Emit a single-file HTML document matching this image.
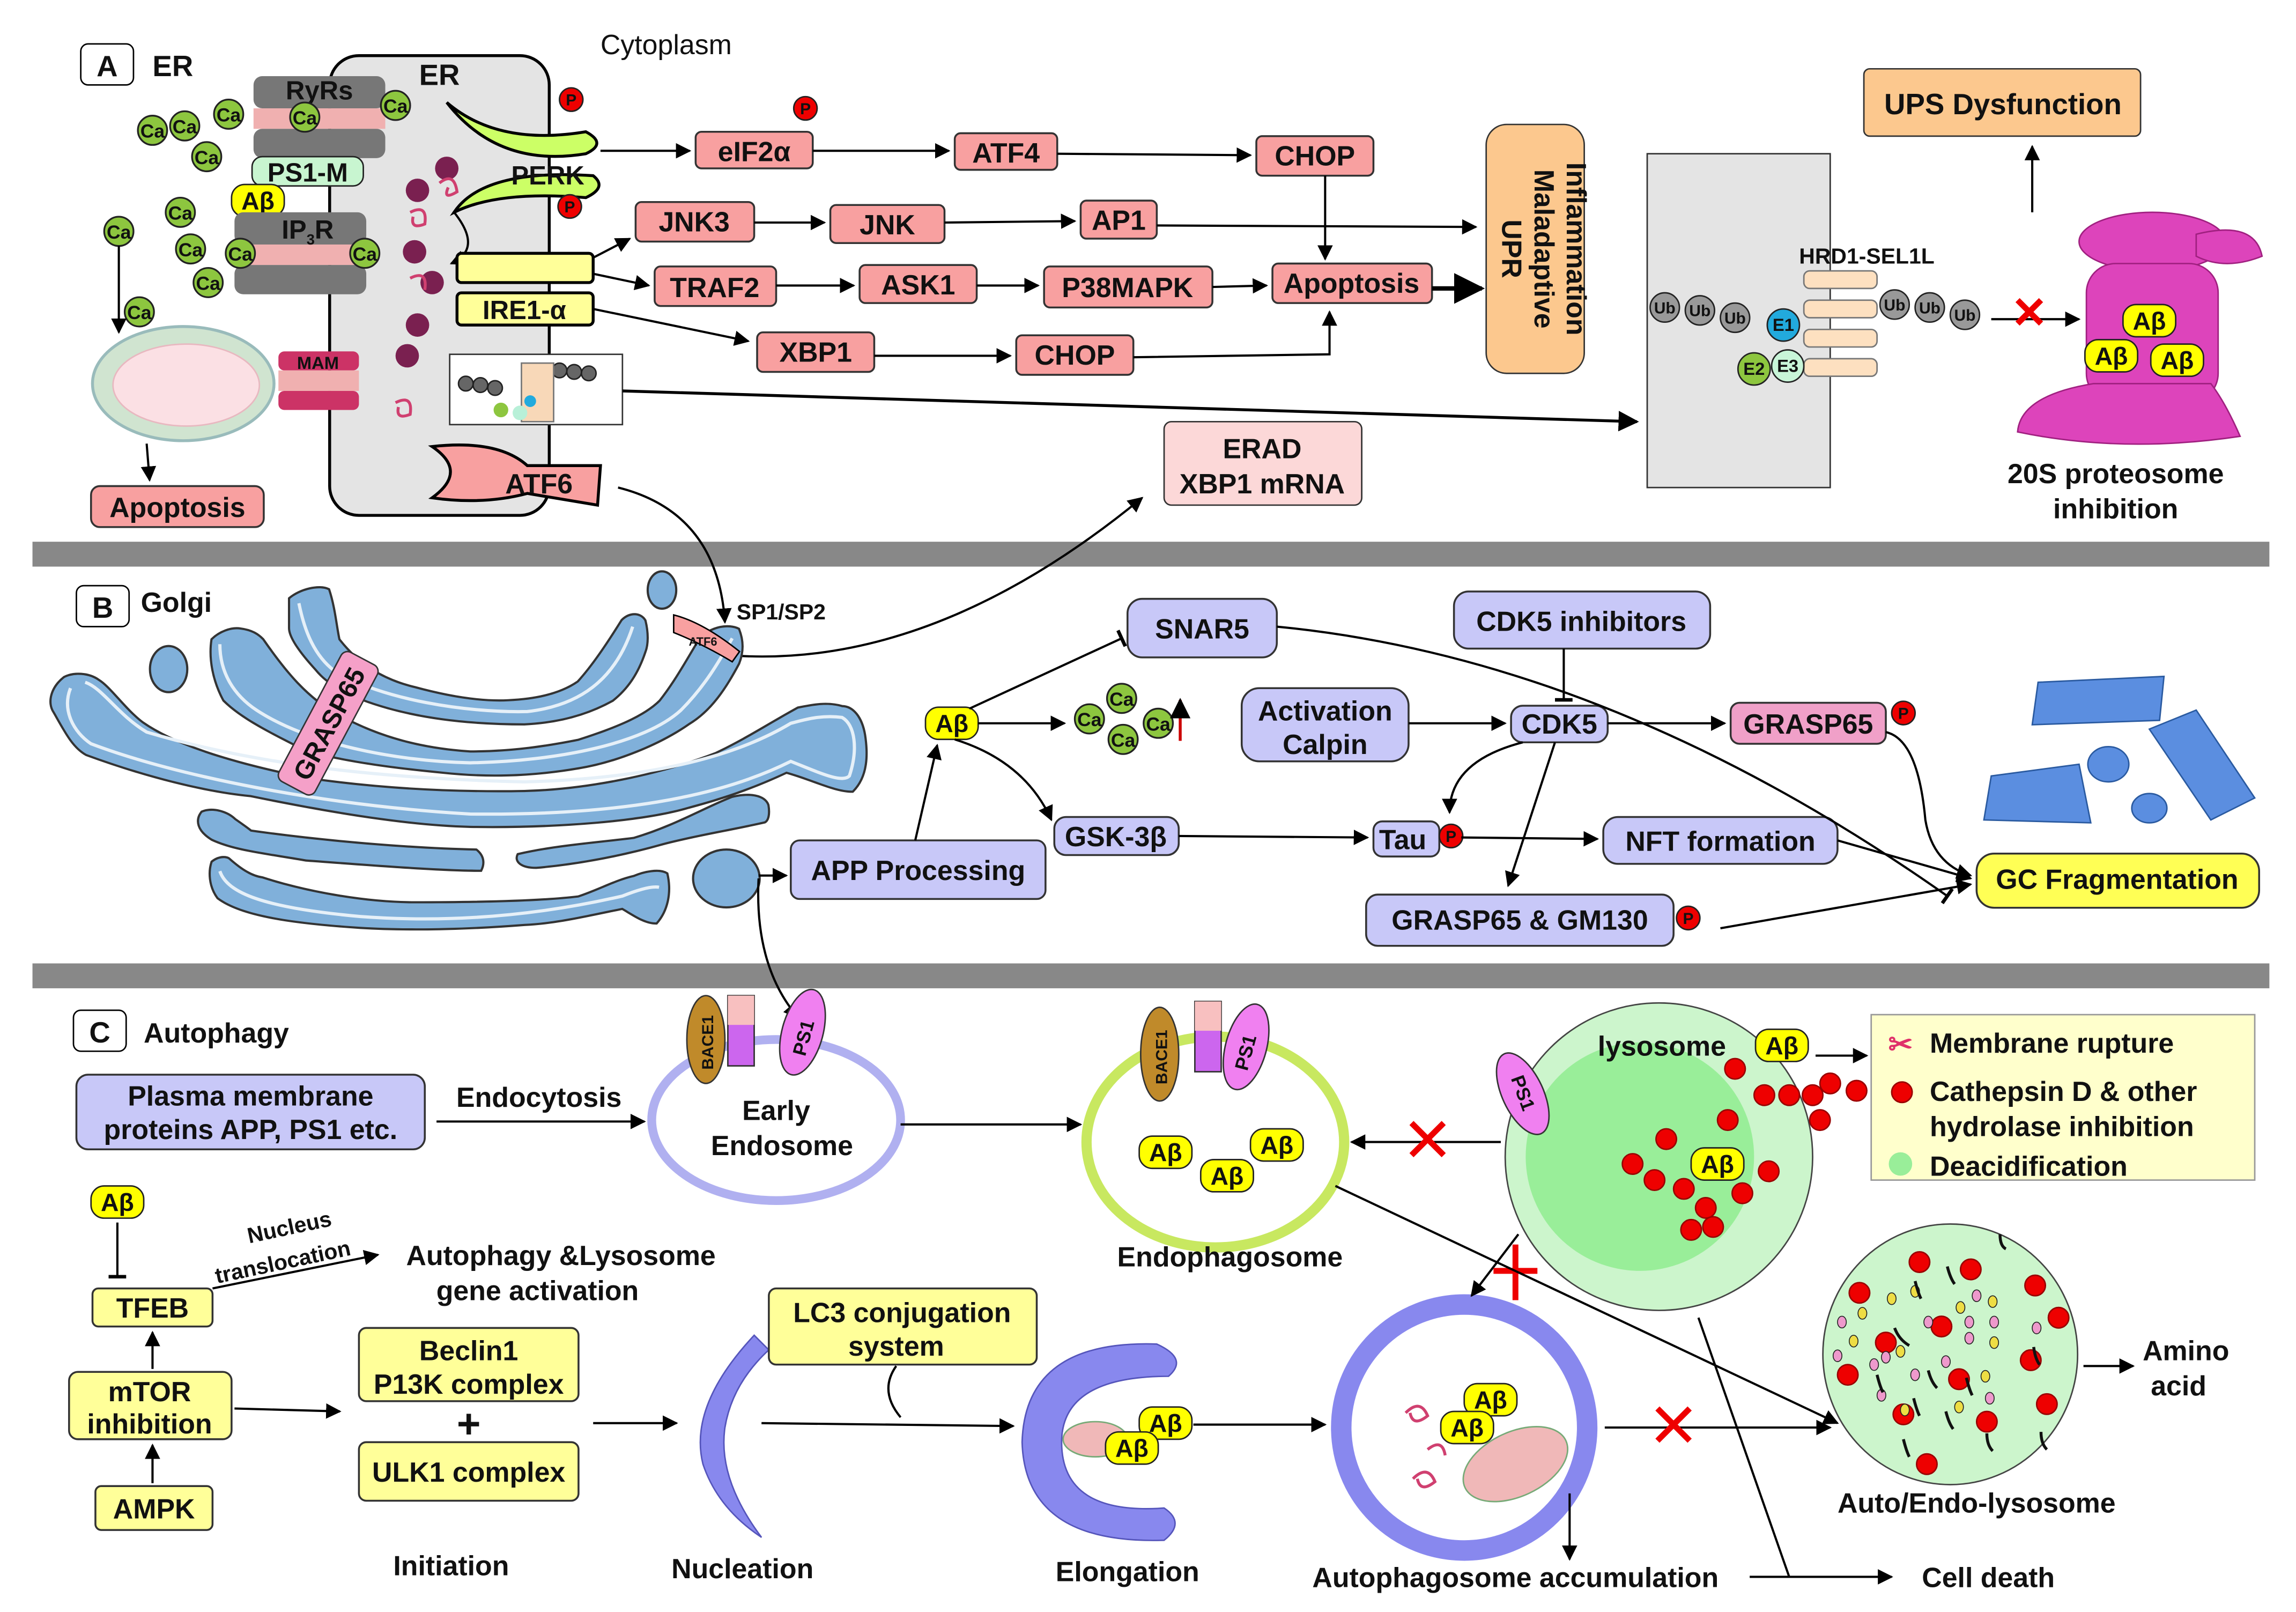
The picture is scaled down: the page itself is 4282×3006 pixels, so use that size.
<!DOCTYPE html>
<html><head><meta charset="utf-8"><style>
html,body{margin:0;padding:0;background:#fff}
svg{display:block}
text{font-family:"Liberation Sans",sans-serif;font-weight:bold;fill:#111}
</style></head><body>
<svg width="4282" height="3006" viewBox="0 0 1568 1101" xmlns="http://www.w3.org/2000/svg">
<defs>
<marker id="a" viewBox="0 0 10 10" refX="9" refY="5" markerWidth="7" markerHeight="7" orient="auto"><path d="M0,0L10,5L0,10z" fill="#000"/></marker>
<marker id="t" viewBox="0 0 10 10" refX="5" refY="5" markerWidth="8" markerHeight="8" orient="auto"><path d="M5,0V10" stroke="#000" stroke-width="2"/></marker>
<g id="ca"><circle r="10" fill="#8dc63f" stroke="#222" stroke-width="1.2"/><text y="5" text-anchor="middle" font-size="13">Ca</text></g>
<g id="p"><circle r="8" fill="#e00" stroke="#222"/><text y="4" text-anchor="middle" font-size="11">P</text></g>
<g id="ab"><rect x="-18" y="-11" width="36" height="22" rx="9" fill="#ffff00" stroke="#222"/><text y="6" text-anchor="middle" font-size="17">Aβ</text></g>
<g id="dot"><circle r="7" fill="#e00" stroke="#900"/></g>
</defs>
<style>.b{stroke:#333;stroke-width:1.3}.l{stroke:#000;stroke-width:1.5;fill:none}.r{fill:#f8a0a0}.v{fill:#c8c8f8}.y{fill:#ffff99}
.g1{fill:#80b0da;stroke:#333;stroke-width:3;paint-order:stroke}.g2{fill:none;stroke:#e6f0f8;stroke-width:2.2}</style>

<rect x="22" y="370" width="1528" height="17" fill="#888"/>
<rect x="22" y="658" width="1528" height="17" fill="#888"/>

<!-- ===== A ===== -->
<rect x="55" y="30" width="36" height="28" rx="5" fill="#fff" stroke="#000"/>
<text x="73" y="52" text-anchor="middle" font-size="20">A</text>
<text x="104" y="52" font-size="20">ER</text>
<text x="410" y="37" font-size="19" style="font-weight:normal">Cytoplasm</text>

<rect x="225" y="38" width="150" height="314" rx="20" fill="#e4e4e4" stroke="#000" stroke-width="2"/>
<text x="300" y="58" text-anchor="middle" font-size="20">ER</text>
<rect x="173" y="52" width="90" height="22" rx="6" fill="#777"/>
<rect x="173" y="74" width="90" height="14" fill="#f0b0b0"/>
<rect x="173" y="88" width="90" height="20" rx="6" fill="#777"/>
<text x="218" y="68" text-anchor="middle" font-size="18">RyRs</text>
<rect x="172" y="107" width="76" height="20" rx="7" fill="#c8f5d0" stroke="#222"/>
<text x="210" y="124" text-anchor="middle" font-size="18">PS1-M</text>
<use href="#ab" x="176" y="137"/>
<rect x="160" y="145" width="90" height="22" rx="6" fill="#777"/>
<rect x="160" y="167" width="90" height="14" fill="#f0b0b0"/>
<rect x="160" y="181" width="90" height="20" rx="6" fill="#777"/>
<text x="210" y="163" text-anchor="middle" font-size="18">IP<tspan font-size="10" dy="4">3</tspan><tspan dy="-4">R</tspan></text>
<use href="#ca" x="104" y="89"/><use href="#ca" x="126" y="86"/><use href="#ca" x="156" y="78"/><use href="#ca" x="141" y="107"/><use href="#ca" x="208" y="80"/><use href="#ca" x="270" y="72"/>
<use href="#ca" x="123" y="145"/><use href="#ca" x="130" y="170"/><use href="#ca" x="142" y="193"/><use href="#ca" x="164" y="173"/><use href="#ca" x="249" y="173"/><use href="#ca" x="81" y="158"/><use href="#ca" x="95" y="213"/>
<line x1="81" y1="168" x2="81" y2="227" class="l" marker-end="url(#a)"/>
<ellipse cx="125" cy="262" rx="62" ry="39" fill="#d0e4d0" stroke="#9bb" stroke-width="2"/>
<ellipse cx="127" cy="263" rx="50" ry="28" fill="#fbe0e4" stroke="#e8b8c0"/>
<rect x="190" y="240" width="55" height="13" rx="4" fill="#cc3366"/><rect x="190" y="253" width="55" height="14" fill="#f0b0b0"/><rect x="190" y="267" width="55" height="13" rx="4" fill="#cc3366"/>
<text x="217" y="252" text-anchor="middle" font-size="12">MAM</text>
<line x1="100" y1="303" x2="102" y2="328" class="l" marker-end="url(#a)"/>
<rect x="62" y="332" width="118" height="28" rx="6" class="r b"/>
<text x="121" y="353" text-anchor="middle" font-size="19">Apoptosis</text>
<path d="M305,70 Q340,100 400,90 Q415,98 400,105 Q340,115 305,70z" fill="#ccff66" stroke="#000" stroke-width="2"/>
<path d="M310,145 Q330,115 405,120 Q415,128 400,135 Q340,130 310,145z" fill="#ccff66" stroke="#000" stroke-width="2"/>
<text x="374" y="126" text-anchor="middle" font-size="18">PERK</text>
<use href="#p" x="390" y="68"/><use href="#p" x="389" y="141"/>
<circle cx="305" cy="115" r="8" fill="#7a2050"/><circle cx="285" cy="130" r="8" fill="#7a2050"/><circle cx="283" cy="172" r="8" fill="#7a2050"/><circle cx="295" cy="193" r="8" fill="#7a2050"/><circle cx="285" cy="222" r="8" fill="#7a2050"/><circle cx="278" cy="243" r="8" fill="#7a2050"/>
<path d="M300,125 q10,-8 12,6 q-10,6 -6,-3 M280,145 q12,-6 10,8 q-10,4 -8,-5 M280,190 q12,-6 10,8 M270,275 q12,-6 10,8 q-10,4 -8,-5" stroke="#d04070" fill="none" stroke-width="2"/>
<path d="M310,145 Q330,170 308,180" class="l" marker-end="url(#a)"/>
<rect x="312" y="173" width="93" height="20" rx="3" fill="#ffff99" stroke="#000" stroke-width="2"/>
<rect x="312" y="200" width="93" height="22" rx="3" fill="#ffff99" stroke="#000" stroke-width="2"/>
<text x="358" y="218" text-anchor="middle" font-size="18">IRE1-α</text>
<rect x="307" y="242" width="118" height="48" fill="#fff" stroke="#333"/>
<g fill="#666" stroke="#222"><circle cx="318" cy="262" r="5"/><circle cx="328" cy="263" r="5"/><circle cx="338" cy="265" r="5"/><circle cx="382" cy="253" r="5"/><circle cx="392" cy="254" r="5"/><circle cx="402" cy="255" r="5"/></g>
<rect x="356" y="248" width="22" height="40" fill="#f8d8b8" stroke="#777"/>
<circle cx="342" cy="280" r="5" fill="#8dc63f"/><circle cx="355" cy="282" r="5" fill="#b8f0d8"/><circle cx="362" cy="274" r="4" fill="#22aadd"/>
<path d="M295,305 Q340,300 360,318 L410,318 L408,345 L360,337 Q330,345 295,340 Q320,322 295,305z" fill="#f8a0a0" stroke="#000" stroke-width="2"/>
<text x="368" y="337" text-anchor="middle" font-size="19">ATF6</text>
<g font-size="19" text-anchor="middle">
<rect x="475" y="90" width="80" height="25" rx="4" class="r b"/><text x="515" y="110">eIF2α</text>
<use href="#p" x="550" y="74"/>
<rect x="652" y="91" width="70" height="25" rx="4" class="r b"/><text x="687" y="111">ATF4</text>
<rect x="858" y="93" width="80" height="27" rx="4" class="r b"/><text x="898" y="113">CHOP</text>
<rect x="434" y="138" width="81" height="27" rx="4" class="r b"/><text x="474" y="158">JNK3</text>
<rect x="567" y="140" width="78" height="26" rx="4" class="r b"/><text x="606" y="160">JNK</text>
<rect x="738" y="137" width="52" height="26" rx="4" class="r b"/><text x="764" y="157">AP1</text>
<rect x="447" y="182" width="83" height="27" rx="4" class="r b"/><text x="488" y="203">TRAF2</text>
<rect x="587" y="181" width="80" height="26" rx="4" class="r b"/><text x="627" y="201">ASK1</text>
<rect x="713" y="182" width="115" height="28" rx="4" class="r b"/><text x="770" y="203">P38MAPK</text>
<rect x="869" y="180" width="109" height="27" rx="4" class="r b"/><text x="923" y="200">Apoptosis</text>
<rect x="517" y="227" width="80" height="27" rx="4" class="r b"/><text x="557" y="247">XBP1</text>
<rect x="694" y="229" width="80" height="27" rx="4" class="r b"/><text x="734" y="249">CHOP</text>
</g>
<g class="l">
<line x1="410" y1="103" x2="471" y2="103" marker-end="url(#a)"/>
<line x1="555" y1="103" x2="648" y2="103" marker-end="url(#a)"/>
<line x1="722" y1="105" x2="854" y2="106" marker-end="url(#a)"/>
<line x1="405" y1="176" x2="430" y2="163" marker-end="url(#a)"/>
<line x1="515" y1="152" x2="563" y2="152" marker-end="url(#a)"/>
<line x1="645" y1="152" x2="734" y2="151" marker-end="url(#a)"/>
<line x1="790" y1="154" x2="1008" y2="155" marker-end="url(#a)"/>
<line x1="405" y1="187" x2="443" y2="195" marker-end="url(#a)"/>
<line x1="530" y1="195" x2="583" y2="195" marker-end="url(#a)"/>
<line x1="667" y1="195" x2="709" y2="195" marker-end="url(#a)"/>
<line x1="828" y1="196" x2="865" y2="195" marker-end="url(#a)"/>
<line x1="905" y1="120" x2="905" y2="177" marker-end="url(#a)"/>
<line x1="978" y1="197" x2="1012" y2="197" marker-end="url(#a)" stroke-width="3"/>
<line x1="405" y1="211" x2="511" y2="233" marker-end="url(#a)"/>
<line x1="597" y1="243" x2="690" y2="243" marker-end="url(#a)"/>
<path d="M774,244 L908,242 L908,213" marker-end="url(#a)"/>
<line x1="425" y1="267" x2="1118" y2="288" marker-end="url(#a)" stroke-width="2"/>
<path d="M422,333 Q490,350 495,425" marker-end="url(#a)"/>
<path d="M505,448 Q640,455 780,340" marker-end="url(#a)"/>
<line x1="1388" y1="145" x2="1388" y2="100" marker-end="url(#a)"/>
<line x1="1360" y1="218" x2="1420" y2="218" marker-end="url(#a)"/>
</g>
<rect x="1015" y="85" width="67" height="170" rx="14" fill="#fcc88e" stroke="#333"/>
<text transform="translate(1070,170) rotate(90)" text-anchor="middle" font-size="19">Inflammation</text>
<text transform="translate(1048,170) rotate(90)" text-anchor="middle" font-size="19">Maladaptive</text>
<text transform="translate(1026,170) rotate(90)" text-anchor="middle" font-size="19">UPR</text>
<rect x="795" y="288" width="135" height="57" rx="5" fill="#fcd8d8" stroke="#333"/>
<text x="862" y="313" text-anchor="middle" font-size="19">ERAD</text><text x="862" y="337" text-anchor="middle" font-size="19">XBP1 mRNA</text>
<rect x="1125" y="105" width="125" height="228" fill="#e4e4e4" stroke="#333"/>
<text x="1275" y="180" text-anchor="middle" font-size="15">HRD1-SEL1L</text>
<g fill="#fde0c0" stroke="#777"><rect x="1232" y="185" width="50" height="12" rx="4"/><rect x="1232" y="205" width="50" height="12" rx="4"/><rect x="1232" y="225" width="50" height="12" rx="4"/><rect x="1232" y="245" width="50" height="12" rx="4"/></g>
<g fill="#999" stroke="#222"><circle cx="1137" cy="210" r="10"/><circle cx="1161" cy="212" r="10"/><circle cx="1185" cy="217" r="10"/><circle cx="1294" cy="208" r="10"/><circle cx="1318" cy="210" r="10"/><circle cx="1342" cy="215" r="10"/></g>
<g font-size="11" text-anchor="middle"><text x="1137" y="214">Ub</text><text x="1161" y="216">Ub</text><text x="1185" y="221">Ub</text><text x="1294" y="212">Ub</text><text x="1318" y="214">Ub</text><text x="1342" y="219">Ub</text></g>
<circle cx="1218" cy="222" r="11" fill="#22aadd" stroke="#222"/><text x="1218" y="226" text-anchor="middle" font-size="12">E1</text>
<circle cx="1198" cy="252" r="11" fill="#8dc63f" stroke="#222"/><text x="1198" y="256" text-anchor="middle" font-size="12">E2</text>
<circle cx="1221" cy="250" r="11" fill="#c8f5d8" stroke="#222"/><text x="1221" y="254" text-anchor="middle" font-size="12">E3</text>
<path d="M1378,205 l16,16 M1394,205 l-16,16" stroke="#e00" stroke-width="4"/>
<rect x="1273" y="47" width="189" height="46" rx="4" fill="#fcc88e" stroke="#333"/>
<text x="1368" y="78" text-anchor="middle" font-size="20">UPS Dysfunction</text>
<g fill="#dd44bb" stroke="#a02080">
<ellipse cx="1470" cy="165" rx="50" ry="20"/><path d="M1500,160 Q1540,150 1545,175 Q1520,185 1500,175z"/>
<rect x="1425" y="180" width="90" height="95" rx="20"/>
<path d="M1430,262 Q1380,270 1378,295 Q1450,310 1530,298 Q1520,275 1510,262z"/>
</g>
<use href="#ab" x="1468" y="219"/><use href="#ab" x="1442" y="243"/><use href="#ab" x="1487" y="246"/>
<text x="1445" y="330" text-anchor="middle" font-size="19">20S proteosome</text>
<text x="1445" y="354" text-anchor="middle" font-size="19">inhibition</text>

<!-- ===== B ===== -->
<rect x="52" y="400" width="36" height="28" rx="5" fill="#fff" stroke="#000"/>
<text x="70" y="422" text-anchor="middle" font-size="20">B</text>
<text x="96" y="418" font-size="19">Golgi</text>
<g>
<path class="g1" d="M44,463 C35,470 33,480 37,486 C45,500 50,510 59,515 C100,530 140,540 171,543 C230,555 280,563 321,564 C380,565 440,560 470,551 C500,543 520,535 537,527 C555,532 570,540 582,540 C592,530 592,515 590,502 C588,490 582,483 575,483 C565,480 555,482 545,484 C525,495 510,505 489,515 C450,530 400,540 358,541 C300,542 250,538 209,532 C160,522 120,510 97,494 C85,485 75,470 67,465 C60,460 50,460 44,463z"/>
<path class="g2" d="M48,470 C42,485 50,500 62,508 C120,530 220,550 321,556 C420,557 490,545 540,520 C560,528 575,535 580,530 C586,512 584,495 575,490 C560,488 548,492 540,494 C500,518 440,532 358,534 C270,532 180,524 100,500 C80,488 70,470 58,466"/>
<path class="g1" d="M145,437 C150,432 158,429 164,430 C172,431 176,434 179,437 C195,460 210,478 231,489 C260,505 290,512 321,514 C350,514 375,510 395,506 C420,498 440,490 451,479 C462,465 470,450 478,437 C486,428 498,427 504,430 C508,440 506,448 504,453 C495,470 485,485 470,494 C450,508 420,520 395,524 C360,530 330,530 302,527 C260,523 230,518 209,512 C185,500 165,490 153,478 C146,465 143,450 145,437z"/>
<path class="g2" d="M150,440 C150,460 160,475 175,485 C210,508 270,520 321,521 C380,520 440,508 465,485 C482,468 492,450 500,436"/>
<path class="g1" d="M198,409 C205,403 218,400 224,403 C228,415 229,428 231,437 C245,455 262,465 283,470 C305,476 328,480 347,479 C370,478 385,473 395,466 C405,455 415,440 425,424 C430,419 437,419 440,424 C442,432 442,440 440,445 C435,460 428,470 418,478 C400,488 380,493 358,494 C320,494 290,490 265,483 C240,476 225,468 216,457 C205,445 198,435 198,429z"/>
<path class="g2" d="M204,412 C208,432 215,448 228,458 C260,478 320,487 360,486 C395,482 420,465 432,428"/>
<path class="g1" d="M138,555 C145,552 155,555 160,560 C170,567 171,568 171,568 C220,575 280,580 325,581 C330,585 330,590 328,594 C300,594 250,590 209,587 C180,582 160,580 145,573 C135,567 134,560 138,555z"/>
<path class="g1" d="M354,584 C380,578 410,576 433,573 C460,565 480,553 500,545 C512,542 522,544 524,550 C525,556 524,560 522,561 C500,566 475,570 452,576 C420,585 390,590 366,592 C356,592 352,588 354,584z"/>
<path class="g1" d="M145,589 C150,585 155,586 156,587 C165,595 172,599 179,600 C210,610 250,617 283,617 C330,617 370,616 395,613 C410,608 420,602 433,599 C440,596 450,594 455,597 C458,610 455,622 448,630 C440,630 432,624 425,620 C400,625 380,630 358,631 C320,634 280,635 246,633 C200,630 165,625 149,613 C143,605 143,595 145,589z"/>
<path class="g2" d="M150,595 C155,610 180,620 246,626 C300,630 360,627 425,612 C435,608 445,605 450,606"/>
<ellipse class="g1" cx="496" cy="600" rx="22" ry="19"/>
<ellipse class="g1" cx="115" cy="457" rx="12" ry="15"/>
<ellipse class="g1" cx="452" cy="403" rx="9" ry="12"/>
</g>
<g transform="rotate(-62 224 494)">
<rect x="174" y="480" width="100" height="28" rx="5" fill="#f5a0c8" stroke="#333"/>
<text x="224" y="501" text-anchor="middle" font-size="18">GRASP65</text>
</g>
<path d="M460,420 Q480,425 505,445 L500,452 Q480,440 460,432z" fill="#f8a0a0" stroke="#000"/>
<text x="480" y="441" font-size="8" text-anchor="middle">ATF6</text>
<text x="503" y="423" font-size="15">SP1/SP2</text>
<g font-size="19" text-anchor="middle">
<rect x="770" y="409" width="102" height="40" rx="10" class="v b"/><text x="821" y="436">SNAR5</text>
<rect x="993" y="404" width="175" height="39" rx="10" class="v b"/><text x="1080" y="431">CDK5 inhibitors</text>
<rect x="848" y="470" width="114" height="50" rx="12" class="v b"/><text x="905" y="492">Activation</text><text x="905" y="515">Calpin</text>
<rect x="1032" y="482" width="66" height="25" rx="8" class="v b"/><text x="1065" y="501">CDK5</text>
<rect x="1182" y="480" width="106" height="28" rx="6" fill="#f0a0c8" class="b"/><text x="1235" y="501">GRASP65</text>
<rect x="720" y="558" width="85" height="26" rx="8" class="v b"/><text x="762" y="578">GSK-3β</text>
<rect x="938" y="561" width="45" height="24" rx="6" class="v b"/><text x="958" y="580">Tau</text>
<rect x="1095" y="558" width="160" height="32" rx="10" class="v b"/><text x="1175" y="581">NFT formation</text>
<rect x="540" y="574" width="174" height="40" rx="6" class="v b"/><text x="627" y="601">APP Processing</text>
<rect x="933" y="611" width="210" height="35" rx="8" class="v b"/><text x="1038" y="635">GRASP65 &amp; GM130</text>
<rect x="1350" y="583" width="193" height="37" rx="12" fill="#ffff55" class="b"/><text x="1446" y="607">GC Fragmentation</text>
</g>
<use href="#p" x="1300" y="487"/><use href="#p" x="991" y="571"/><use href="#p" x="1153" y="627"/>
<use href="#ab" x="650" y="494"/>
<use href="#ca" x="744" y="491"/><use href="#ca" x="766" y="477"/><use href="#ca" x="767" y="505"/><use href="#ca" x="791" y="494"/>
<line x1="806" y1="506" x2="806" y2="478" stroke="#c00" stroke-width="2" marker-end="url(#a)"/>
<g class="l">
<line x1="662" y1="484" x2="766" y2="436" marker-end="url(#t)"/>
<line x1="668" y1="494" x2="727" y2="494" marker-end="url(#a)"/>
<line x1="962" y1="494" x2="1028" y2="494" marker-end="url(#a)"/>
<line x1="1098" y1="494" x2="1178" y2="494" marker-end="url(#a)"/>
<line x1="1068" y1="443" x2="1068" y2="478" marker-end="url(#t)"/>
<path d="M652,505 Q700,520 718,560" marker-end="url(#a)"/>
<line x1="805" y1="571" x2="934" y2="572" marker-end="url(#a)"/>
<line x1="998" y1="572" x2="1091" y2="573" marker-end="url(#a)"/>
<path d="M1040,507 Q990,520 990,555" marker-end="url(#a)"/>
<line x1="1062" y1="507" x2="1030" y2="605" marker-end="url(#a)"/>
<line x1="1255" y1="574" x2="1346" y2="600" marker-end="url(#a)"/>
<line x1="1175" y1="634" x2="1346" y2="604" marker-end="url(#a)"/>
<path d="M1288,500 Q1310,505 1315,560 Q1320,590 1346,598" marker-end="url(#a)"/>
<path d="M872,428 Q1100,450 1330,612" marker-end="url(#t)"/>
<line x1="625" y1="574" x2="640" y2="509" marker-end="url(#a)"/>
<line x1="518" y1="598" x2="537" y2="598" marker-end="url(#a)"/>
<path d="M518,600 Q515,660 545,695" marker-end="url(#a)"/>
</g>
<g fill="#5b8ee0" stroke="#2a5aa0">
<path d="M1392,466 L1478,462 L1475,492 L1388,495z"/>
<path d="M1468,498 L1500,485 L1540,545 L1510,560z"/>
<path d="M1360,530 L1420,522 L1428,562 L1355,560z"/>
<ellipse cx="1440" cy="522" rx="14" ry="12"/><ellipse cx="1468" cy="552" rx="12" ry="10"/>
</g>

<!-- ===== C ===== -->
<rect x="50" y="690" width="36" height="28" rx="5" fill="#fff" stroke="#000"/>
<text x="68" y="712" text-anchor="middle" font-size="20">C</text>
<text x="98" y="712" font-size="19">Autophagy</text>
<rect x="52" y="734" width="238" height="51" rx="8" class="v b"/>
<text x="171" y="755" text-anchor="middle" font-size="19">Plasma membrane</text>
<text x="171" y="778" text-anchor="middle" font-size="19">proteins APP, PS1 etc.</text>
<text x="368" y="756" text-anchor="middle" font-size="19">Endocytosis</text>
<line x1="298" y1="766" x2="440" y2="766" class="l" marker-end="url(#a)"/>
<ellipse cx="530" cy="765" rx="85" ry="55" fill="#fff" stroke="#b0b0f0" stroke-width="6"/>
<text x="530" y="765" text-anchor="middle" font-size="19">Early</text><text x="534" y="789" text-anchor="middle" font-size="19">Endosome</text>
<ellipse cx="482" cy="710" rx="13" ry="30" fill="#c08a2a" stroke="#333"/><text transform="translate(487,712) rotate(-90)" text-anchor="middle" font-size="11">BACE1</text>
<rect x="497" y="680" width="18" height="48" fill="#cc66ee" stroke="#333"/><rect x="497" y="680" width="18" height="20" fill="#f8c0c0"/>
<ellipse cx="548" cy="705" rx="14" ry="30" fill="#f080f0" stroke="#333" transform="rotate(15 548 705)"/><text transform="translate(553,710) rotate(-75)" text-anchor="middle" font-size="13">PS1</text>
<line x1="615" y1="768" x2="738" y2="768" class="l" marker-end="url(#a)"/>
<ellipse cx="830" cy="780" rx="88" ry="72" fill="#fff" stroke="#c8e860" stroke-width="7"/>
<ellipse cx="792" cy="720" rx="13" ry="32" fill="#c08a2a" stroke="#333"/><text transform="translate(797,722) rotate(-90)" text-anchor="middle" font-size="11">BACE1</text>
<rect x="816" y="684" width="18" height="48" fill="#cc66ee" stroke="#333"/><rect x="816" y="684" width="18" height="20" fill="#f8c0c0"/>
<ellipse cx="851" cy="715" rx="14" ry="30" fill="#f080f0" stroke="#333" transform="rotate(15 851 715)"/><text transform="translate(855,720) rotate(-75)" text-anchor="middle" font-size="13">PS1</text>
<use href="#ab" x="796" y="787"/><use href="#ab" x="838" y="803"/><use href="#ab" x="872" y="782"/>
<text x="840" y="865" text-anchor="middle" font-size="19">Endophagosome</text>
<circle cx="1133" cy="790" r="105" fill="#ccf5cc" stroke="#444"/>
<circle cx="1120" cy="790" r="78" fill="#99ee99"/>
<ellipse cx="1040" cy="747" rx="14" ry="30" fill="#f080f0" stroke="#333" transform="rotate(-25 1040 747)"/><text transform="translate(1036,748) rotate(70)" text-anchor="middle" font-size="13">PS1</text>
<text x="1135" y="721" text-anchor="middle" font-size="19">lysosome</text>
<use href="#ab" x="1217" y="714"/><use href="#ab" x="1173" y="795"/>
<g><use href="#dot" x="1185" y="730"/><use href="#dot" x="1205" y="748"/><use href="#dot" x="1222" y="748"/><use href="#dot" x="1238" y="748"/><use href="#dot" x="1250" y="740"/><use href="#dot" x="1268" y="745"/><use href="#dot" x="1243" y="765"/><use href="#dot" x="1180" y="765"/><use href="#dot" x="1138" y="778"/><use href="#dot" x="1115" y="795"/><use href="#dot" x="1130" y="806"/><use href="#dot" x="1150" y="812"/><use href="#dot" x="1208" y="800"/><use href="#dot" x="1165" y="825"/><use href="#dot" x="1190" y="815"/><use href="#dot" x="1155" y="840"/><use href="#dot" x="1170" y="838"/></g>
<line x1="1240" y1="721" x2="1275" y2="721" class="l" marker-end="url(#a)"/>
<line x1="1025" y1="780" x2="923" y2="780" class="l" marker-end="url(#a)"/>
<path d="M964,767 l22,22 M986,767 l-22,22" stroke="#e00" stroke-width="4"/>
<rect x="1278" y="693" width="262" height="113" fill="#ffffcc" stroke="#999"/>
<text x="1298" y="720" font-size="20" text-anchor="middle" style="fill:#e0306a">✂</text>
<text x="1318" y="719" font-size="19">Membrane rupture</text>
<use href="#dot" x="1299" y="746"/>
<text x="1318" y="752" font-size="19">Cathepsin D &amp; other</text>
<text x="1318" y="776" font-size="19">hydrolase inhibition</text>
<circle cx="1298" cy="795" r="8" fill="#99ee99"/>
<text x="1318" y="803" font-size="19">Deacidification</text>

<use href="#ab" x="80" y="821"/>
<line x1="80" y1="835" x2="80" y2="872" class="l" marker-end="url(#t)"/>
<rect x="63" y="880" width="82" height="26" rx="4" class="y b"/><text x="104" y="900" text-anchor="middle" font-size="19">TFEB</text>
<rect x="47" y="937" width="111" height="46" rx="6" class="y b"/><text x="102" y="957" text-anchor="middle" font-size="19">mTOR</text><text x="102" y="979" text-anchor="middle" font-size="19">inhibition</text>
<rect x="65" y="1015" width="80" height="30" rx="4" class="y b"/><text x="105" y="1037" text-anchor="middle" font-size="19">AMPK</text>
<line x1="104" y1="1013" x2="104" y2="987" class="l" marker-end="url(#a)"/>
<line x1="104" y1="935" x2="104" y2="910" class="l" marker-end="url(#a)"/>
<line x1="145" y1="880" x2="258" y2="857" class="l" marker-end="url(#a)"/>
<text x="200" y="843" text-anchor="middle" font-size="15" transform="rotate(-12 200 850)">Nucleus</text>
<text x="193" y="867" text-anchor="middle" font-size="15" transform="rotate(-12 193 862)">translocation</text>
<text x="383" y="864" text-anchor="middle" font-size="19">Autophagy &amp;Lysosome</text>
<text x="367" y="888" text-anchor="middle" font-size="19">gene activation</text>
<line x1="160" y1="962" x2="232" y2="964" class="l" marker-end="url(#a)"/>
<rect x="245" y="907" width="150" height="50" rx="5" class="y b"/><text x="320" y="929" text-anchor="middle" font-size="19">Beclin1</text><text x="320" y="952" text-anchor="middle" font-size="19">P13K complex</text>
<text x="320" y="982" text-anchor="middle" font-size="28">+</text>
<rect x="245" y="985" width="150" height="40" rx="5" class="y b"/><text x="320" y="1012" text-anchor="middle" font-size="19">ULK1 complex</text>
<text x="308" y="1076" text-anchor="middle" font-size="19">Initiation</text>
<line x1="405" y1="972" x2="462" y2="972" class="l" marker-end="url(#a)"/>
<path d="M515,912 Q470,960 480,1000 Q490,1030 520,1050 Q490,1010 495,975 Q500,945 525,922z" fill="#8888ee" stroke="#5555bb"/>
<text x="507" y="1078" text-anchor="middle" font-size="19">Nucleation</text>
<rect x="525" y="880" width="183" height="52" rx="5" class="y b"/><text x="616" y="903" text-anchor="middle" font-size="19">LC3 conjugation</text><text x="612" y="926" text-anchor="middle" font-size="19">system</text>
<path d="M612,933 Q600,950 615,968" class="l"/>
<line x1="520" y1="972" x2="692" y2="974" class="l" marker-end="url(#a)"/>
<path d="M790,918 Q700,915 698,985 Q700,1055 795,1052 Q810,1040 795,1030 Q725,1035 725,985 Q725,940 798,940 Q812,928 790,918z" fill="#8888ee" stroke="#5555bb"/>
<ellipse cx="748" cy="983" rx="22" ry="12" fill="#f0b8b8" stroke="#7a7"/>
<use href="#ab" x="796" y="972"/><use href="#ab" x="773" y="989"/>
<text x="770" y="1080" text-anchor="middle" font-size="19">Elongation</text>
<line x1="815" y1="973" x2="905" y2="973" class="l" marker-end="url(#a)"/>
<circle cx="1000" cy="975" r="84" fill="#fff" stroke="#8888ee" stroke-width="14"/>
<ellipse cx="1035" cy="1000" rx="38" ry="22" fill="#f0b8b8" stroke="#7a7" transform="rotate(-25 1035 1000)"/>
<use href="#ab" x="1018" y="956"/><use href="#ab" x="1002" y="975"/>
<path d="M960,965 q10,-10 15,2 q-10,8 -12,-2 M965,1010 q10,-10 15,2 q-10,8 -12,-2 M975,990 q10,-8 12,4" stroke="#d04070" fill="none" stroke-width="2"/>
<text x="1035" y="1084" text-anchor="middle" font-size="19">Autophagosome accumulation</text>
<line x1="1072" y1="1020" x2="1072" y2="1065" class="l" marker-end="url(#a)"/>
<line x1="1096" y1="975" x2="1250" y2="975" class="l" marker-end="url(#a)"/>
<path d="M1132,962 l22,22 M1154,962 l-22,22" stroke="#e00" stroke-width="4"/>
<line x1="1037" y1="843" x2="1005" y2="885" class="l" marker-end="url(#a)"/>
<path d="M1020,868 h30 M1035,850 v38" stroke="#e00" stroke-width="4"/>
<line x1="912" y1="810" x2="1255" y2="972" class="l" marker-end="url(#a)"/>
<path d="M1160,900 L1222,1077" class="l"/>
<line x1="1195" y1="1077" x2="1292" y2="1077" class="l" marker-end="url(#a)"/>
<text x="1358" y="1084" text-anchor="middle" font-size="19">Cell death</text>
<ellipse cx="1332" cy="925" rx="87" ry="89" fill="#ccf5cc" stroke="#444"/>
<g><use href="#dot" x="1270" y="883"/><use href="#dot" x="1311" y="862"/><use href="#dot" x="1346" y="867"/><use href="#dot" x="1390" y="878"/><use href="#dot" x="1326" y="906"/><use href="#dot" x="1406" y="900"/><use href="#dot" x="1288" y="917"/><use href="#dot" x="1387" y="929"/><use href="#dot" x="1262" y="939"/><use href="#dot" x="1338" y="942"/><use href="#dot" x="1398" y="959"/><use href="#dot" x="1300" y="966"/><use href="#dot" x="1357" y="971"/><use href="#dot" x="1316" y="1000"/></g>
<g fill="#eedd44" stroke="#222" stroke-width="0.6"><ellipse cx="1272" cy="897" rx="3" ry="4"/><ellipse cx="1292" cy="887" rx="3" ry="4"/><ellipse cx="1308" cy="882" rx="3" ry="4"/><ellipse cx="1339" cy="893" rx="3" ry="4"/><ellipse cx="1361" cy="889" rx="3" ry="4"/><ellipse cx="1266" cy="916" rx="3" ry="4"/><ellipse cx="1298" cy="923" rx="3" ry="4"/><ellipse cx="1362" cy="917" rx="3" ry="4"/><ellipse cx="1356" cy="940" rx="3" ry="4"/><ellipse cx="1301" cy="963" rx="3" ry="4"/><ellipse cx="1338" cy="961" rx="3" ry="4"/></g>
<g fill="#ee99cc" stroke="#222" stroke-width="0.6"><ellipse cx="1258" cy="903" rx="3" ry="4"/><ellipse cx="1317" cy="903" rx="3" ry="4"/><ellipse cx="1350" cy="885" rx="3" ry="4"/><ellipse cx="1345" cy="903" rx="3" ry="4"/><ellipse cx="1362" cy="903" rx="3" ry="4"/><ellipse cx="1391" cy="907" rx="3" ry="4"/><ellipse cx="1345" cy="914" rx="3" ry="4"/><ellipse cx="1255" cy="926" rx="3" ry="4"/><ellipse cx="1280" cy="932" rx="3" ry="4"/><ellipse cx="1288" cy="927" rx="3" ry="4"/><ellipse cx="1308" cy="939" rx="3" ry="4"/><ellipse cx="1329" cy="930" rx="3" ry="4"/><ellipse cx="1359" cy="955" rx="3" ry="4"/><ellipse cx="1285" cy="953" rx="3" ry="4"/></g>
<g stroke="#111" stroke-width="2" fill="none"><path d="M1308,875 q2,8 4,12"/><path d="M1330,865 q2,8 5,12"/><path d="M1366,843 q0,8 4,10"/><path d="M1294,907 q3,8 10,12"/><path d="M1282,939 q2,8 4,12"/><path d="M1317,936 q2,8 6,12"/><path d="M1389,920 q1,8 4,12"/><path d="M1307,955 q2,8 4,12"/><path d="M1343,941 q2,8 4,12"/><path d="M1329,964 q2,8 5,12"/><path d="M1300,983 q2,8 4,12"/><path d="M1357,979 q0,8 4,12"/><path d="M1394,978 q0,8 4,12"/></g>
<text x="1350" y="1033" text-anchor="middle" font-size="19">Auto/Endo-lysosome</text>
<line x1="1423" y1="933" x2="1457" y2="933" class="l" stroke-width="2" marker-end="url(#a)"/>
<text x="1493" y="929" text-anchor="middle" font-size="19">Amino</text>
<text x="1488" y="953" text-anchor="middle" font-size="19">acid</text>
</svg>
</body></html>
